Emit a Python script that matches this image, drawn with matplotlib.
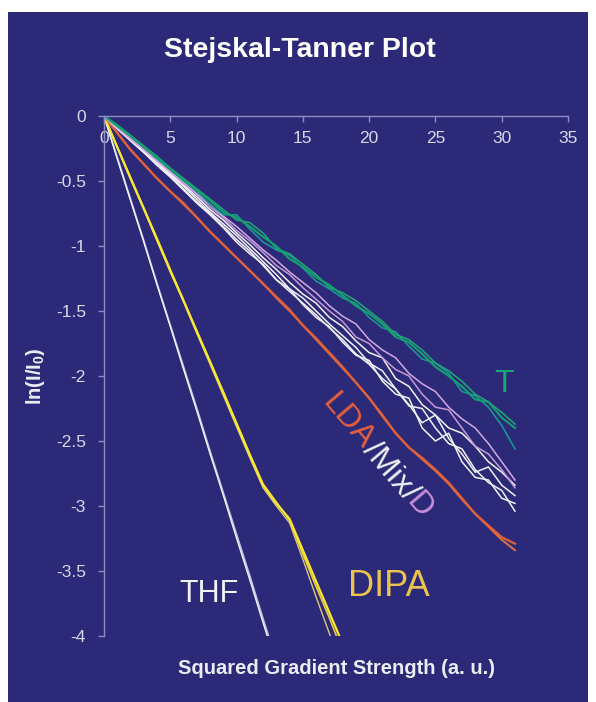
import numpy as np
from matplotlib import pyplot as plt
from matplotlib.patches import Rectangle

plt.rcParams['font.family'] = ['Liberation Sans', 'DejaVu Sans']
plt.rcParams['mathtext.fontset'] = 'custom'
plt.rcParams['mathtext.rm'] = 'Liberation Sans'
plt.rcParams['mathtext.bf'] = 'Liberation Sans:bold'

# x values (squared gradient strength, a.u.)
x_long = list(range(32))
x_thf = list(range(14))
x_dipa = list(range(19))

# T (green / teal)
t_green = [0, -0.07, -0.15, -0.24, -0.32, -0.41, -0.49, -0.57, -0.65, -0.74, -0.78, -0.85, -0.93, -1.00, -1.10, -1.16,
           -1.24, -1.30, -1.38, -1.46, -1.52, -1.60, -1.70, -1.74, -1.83, -1.93, -2.00, -2.08, -2.18, -2.20, -2.32, -2.40]
t_teal = [0, -0.08, -0.16, -0.24, -0.33, -0.41, -0.50, -0.58, -0.68, -0.76, -0.76, -0.87, -0.97, -1.03, -1.07, -1.17,
          -1.27, -1.33, -1.40, -1.44, -1.55, -1.63, -1.66, -1.77, -1.87, -1.90, -1.98, -2.12, -2.15, -2.24, -2.38, -2.56]
t_green2 = [0, -0.08, -0.15, -0.23, -0.31, -0.40, -0.48, -0.56, -0.64, -0.72, -0.80, -0.82, -0.90, -1.02, -1.06, -1.14,
            -1.22, -1.32, -1.36, -1.42, -1.50, -1.58, -1.68, -1.72, -1.80, -1.90, -1.96, -2.04, -2.14, -2.20, -2.28, -2.37]

# Mix (white)
mix_a = [0, -0.09, -0.19, -0.28, -0.37, -0.46, -0.56, -0.66, -0.75, -0.85, -0.95, -1.04, -1.15, -1.26, -1.35, -1.44,
         -1.53, -1.63, -1.72, -1.83, -1.91, -2.02, -2.10, -2.23, -2.25, -2.40, -2.52, -2.56, -2.72, -2.82, -2.88, -3.04]
mix_b = [0, -0.09, -0.18, -0.27, -0.36, -0.45, -0.54, -0.64, -0.74, -0.83, -0.92, -1.02, -1.12, -1.22, -1.33, -1.40,
         -1.50, -1.60, -1.69, -1.78, -1.90, -1.96, -2.10, -2.22, -2.36, -2.30, -2.48, -2.60, -2.74, -2.70, -2.84, -2.92]
mix_c = [0, -0.10, -0.19, -0.28, -0.38, -0.47, -0.57, -0.67, -0.76, -0.86, -0.97, -1.06, -1.14, -1.26, -1.33, -1.45,
         -1.55, -1.62, -1.74, -1.84, -1.88, -2.04, -2.14, -2.17, -2.40, -2.50, -2.44, -2.66, -2.78, -2.80, -2.94, -2.98]
mix_d = [0, -0.09, -0.18, -0.27, -0.35, -0.44, -0.53, -0.62, -0.72, -0.80, -0.90, -0.99, -1.09, -1.18, -1.28, -1.37,
         -1.44, -1.55, -1.62, -1.73, -1.82, -1.86, -2.02, -2.08, -2.22, -2.30, -2.40, -2.44, -2.54, -2.66, -2.74, -2.84]

# D (violet)
d_a = [0, -0.09, -0.17, -0.26, -0.34, -0.43, -0.52, -0.60, -0.70, -0.78, -0.88, -0.96, -1.05, -1.15, -1.22, -1.32,
       -1.41, -1.50, -1.58, -1.70, -1.75, -1.86, -1.95, -2.00, -2.14, -2.24, -2.26, -2.40, -2.54, -2.60, -2.72, -2.86]
d_b = [0, -0.09, -0.18, -0.26, -0.35, -0.43, -0.51, -0.60, -0.68, -0.77, -0.85, -0.94, -1.03, -1.11, -1.20, -1.28,
       -1.36, -1.46, -1.54, -1.60, -1.72, -1.80, -1.86, -1.98, -2.06, -2.12, -2.24, -2.33, -2.40, -2.52, -2.66, -2.80]

# LDA (orange red)
lda_a = [0, -0.13, -0.26, -0.37, -0.48, -0.58, -0.67, -0.78, -0.89, -0.99, -1.09, -1.19, -1.29, -1.39, -1.49, -1.61,
         -1.71, -1.82, -1.93, -2.05, -2.17, -2.30, -2.44, -2.55, -2.63, -2.72, -2.82, -2.94, -3.06, -3.15, -3.24, -3.29]
lda_b = [0, -0.13, -0.26, -0.37, -0.48, -0.58, -0.68, -0.78, -0.89, -0.99, -1.09, -1.19, -1.29, -1.40, -1.50, -1.61,
         -1.72, -1.83, -1.94, -2.05, -2.17, -2.31, -2.44, -2.55, -2.64, -2.73, -2.83, -2.95, -3.06, -3.16, -3.26, -3.34]

# THF
thf_a = [0, -0.32, -0.64, -0.96, -1.29, -1.61, -1.93, -2.25, -2.58, -2.90, -3.22, -3.54, -3.87, -4.19]
thf_b = [0, -0.33, -0.65, -0.97, -1.30, -1.62, -1.95, -2.27, -2.60, -2.92, -3.25, -3.57, -3.90, -4.22]

# DIPA
dipa_a = [0, -0.24, -0.48, -0.71, -0.95, -1.19, -1.42, -1.66, -1.89, -2.13, -2.37, -2.61, -2.84, -2.98, -3.10, -3.34,
          -3.58, -3.82, -4.06]
dipa_b = [0, -0.24, -0.47, -0.71, -0.94, -1.18, -1.42, -1.65, -1.89, -2.12, -2.36, -2.60, -2.83, -2.97, -3.11, -3.37,
          -3.62, -3.86, -4.12]
dipa_c = [0, -0.24, -0.48, -0.72, -0.96, -1.20, -1.43, -1.67, -1.91, -2.15, -2.39, -2.63, -2.86, -3.00, -3.13, -3.41,
          -3.70, -3.98, -4.26]

x_ticks = [0, 5, 10, 15, 20, 25, 30, 35]
y_ticks = [0, -0.5, -1, -1.5, -2, -2.5, -3, -3.5, -4]
y_tick_labels = ['0', '-0.5', '-1', '-1.5', '-2', '-2.5', '-3', '-3.5', '-4']

bg = '#2c2a78'
axis_col = '#8e8cc4'
tick_col = '#d6d6ea'

fig = plt.figure(figsize=(5.96, 7.02), dpi=100)
fig.patch.set_facecolor('white')
fig.patches.append(Rectangle((8 / 596, 0), 580 / 596, 690 / 702, transform=fig.transFigure,
                             facecolor=bg, edgecolor='none', zorder=-10))

ax = fig.add_axes([104 / 596, 1 - 636 / 702, 464 / 596, 520 / 702])
ax.set_zorder(1)
ax.patch.set_alpha(0)

# lines
ax.plot(x_thf, thf_a, color='#c4c6ea', lw=1.3)
ax.plot(x_thf, thf_b, color='#f4f4fc', lw=0.9)
ax.plot(x_dipa, dipa_c, color='#d8c878', lw=1.0)
ax.plot(x_dipa, dipa_b, color='#e8d040', lw=1.2)
ax.plot(x_dipa, dipa_a, color='#f8e830', lw=1.6)
ax.plot(x_long, lda_b, color='#e0703c', lw=1.4)
ax.plot(x_long, lda_a, color='#e0603a', lw=1.6)
for y in [mix_a, mix_b, mix_c, mix_d]:
    ax.plot(x_long, y, color='#f2f0fa', lw=1.1)
ax.plot(x_long, d_a, color='#c898d6', lw=1.1)
ax.plot(x_long, d_b, color='#d4a8e0', lw=1.1)
ax.plot(x_long, t_teal, color='#1a9c94', lw=1.1)
ax.plot(x_long, t_green2, color='#22a878', lw=1.1)
ax.plot(x_long, t_green, color='#14a070', lw=1.5)

ax.set_xlim(0, 35)
ax.set_ylim(-4, 0)
ax.set_xticks(x_ticks)
ax.set_yticks(y_ticks)
ax.set_yticklabels(y_tick_labels)

for s in ['top', 'right']:
    ax.spines[s].set_visible(False)
ax.spines['bottom'].set_position(('data', 0))
for s in ['bottom', 'left']:
    ax.spines[s].set_color(axis_col)
    ax.spines[s].set_linewidth(1.0)
ax.tick_params(axis='both', colors=axis_col, length=4, width=1.0, direction='out',
               labelcolor=tick_col, labelsize=12.5)
ax.tick_params(axis='x', pad=7)
ax.tick_params(axis='y', pad=9)

# titles
fig.text(0.503, 1 - 50 / 702, 'Stejskal-Tanner Plot', color='white', fontsize=20.5,
         fontweight='bold', ha='center', va='center')
ax.set_xlabel('Squared Gradient Strength (a. u.)', color='#ececf6', fontsize=14.5, fontweight='bold')
ax.xaxis.set_label_coords(0.5, -0.062)
ax.xaxis.label.set_va('center')
ax.set_ylabel(r'$\mathbf{ln(I/I_0)}$', color='#ececf6', fontsize=14.5)
ax.yaxis.set_label_coords(-0.147, 0.5)
ax.yaxis.label.set_va('center')

# series labels
ax.text(30.2, -2.06, 'T', color='#18a878', fontsize=23, ha='center', va='center')
ax.text(7.9, -3.68, 'THF', color='#f4f4fa', fontsize=22, ha='center', va='center')
ax.text(21.5, -3.62, 'DIPA', color='#eac44c', fontsize=26, ha='center', va='center')

# rotated multi-colour label LDA/Mix/D
angle = -49.5
pieces = [('LDA', '#e8603c'), ('/Mix/', '#f2f0fa'), ('D', '#c890d8')]
fig.canvas.draw()
renderer = fig.canvas.get_renderer()
start = ax.transData.transform((16.4, -2.21))
cx, cy = start
rad = np.deg2rad(angle)
for txt, col in pieces:
    xd, yd = ax.transData.inverted().transform((cx, cy))
    ax.text(xd, yd, txt, color=col, fontsize=23, rotation=angle, rotation_mode='anchor',
            ha='left', va='baseline')
    tmp = ax.text(0, 0, txt, fontsize=23)
    w = tmp.get_window_extent(renderer).width
    tmp.remove()
    cx += w * np.cos(rad)
    cy += w * np.sin(rad)

fig.savefig('out.png', dpi=100, facecolor=fig.get_facecolor())
